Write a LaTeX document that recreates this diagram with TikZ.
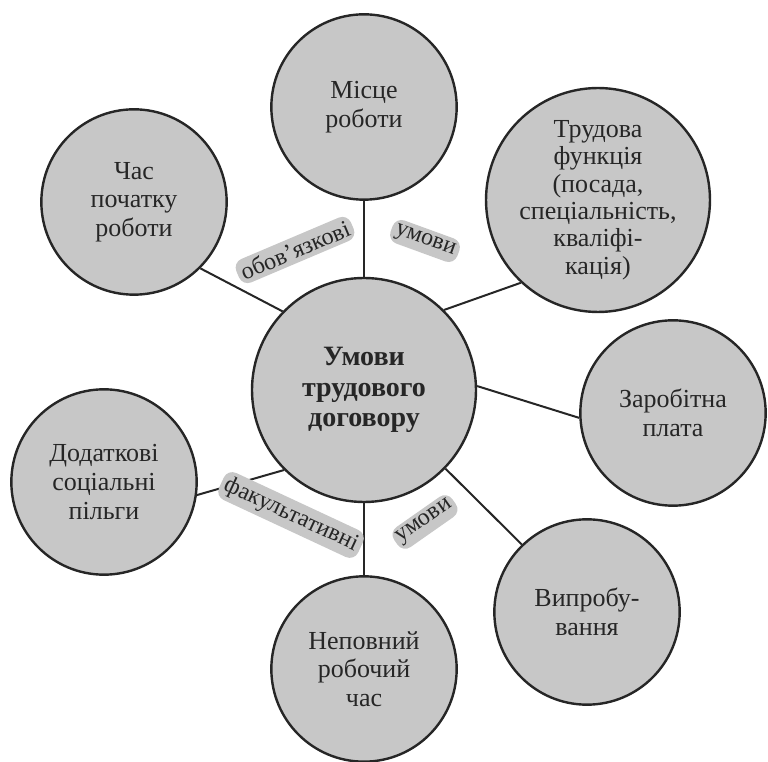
\documentclass[tikz,border=0pt]{standalone}
\usepackage{fontspec}
\setmainfont{Liberation Serif}
\tikzset{
  ring/.style={draw=black!85,circle,line width=1.8pt,fill=black!22,minimum size=139pt,inner sep=0pt,align=center,text=black!85,font=\fontsize{19.5}{21.5}\selectfont},
  hub/.style={ring,minimum size=168pt,font=\fontsize{21}{23}\selectfont\bfseries},
  link/.style={line width=1.5pt,draw=black!85},
  cond/.style={fill=black!22,rounded corners=7pt,inner sep=3pt,text=black!85,font=\fontsize{18}{20}\selectfont}
}

\begin{document}
\begin{tikzpicture}[x=0.75pt,y=-0.75pt]
\useasboundingbox (0,0) rectangle (768,762);
\node[hub] (main) at (364,390) {Умови\\трудового\\договору};
\node[ring] (misce) at (364,107) {Місце\\роботи};
\node[ring] (chas) at (134,202) {Час\\початку\\роботи};
\node[ring,font=\fontsize{19.5}{20.5}\selectfont] (trudova) at (598,200) {Трудова\\функція\\(посада,\\спеціальність,\\кваліфі-\\кація)};
\node[ring] (zarplata) at (673,413) {Заробітна\\плата};
\node[ring] (vyprob) at (587,612) {Випробу-\\вання};
\node[ring] (nepovnyi) at (364,669) {Неповний\\робочий\\час};
\node[ring] (pilhy) at (104,482) {Додаткові\\соціальні\\пільги};
% connectors
\draw[link] (misce.south) -- (main.north);
\draw[link] (chas.-45) -- (main.136);
\draw[link] (trudova.227) -- (main.45);
\draw[link] (zarplata.183) -- (main.2);
\draw[link] (vyprob.134) -- (main.-44);
\draw[link] (nepovnyi.north) -- (main.south);
\draw[link] (pilhy.-8) -- (main.225);
% labels
\node[cond,rotate=23] (obov) at (295,250) {обов’язкові};
\node[cond,rotate=-20] (umovy1) at (425,241) {умови};
\node[cond,rotate=-25] (fakult) at (291,515) {факультативні};
\node[cond,rotate=35] (umovy2) at (425,522) {умови};
\end{tikzpicture}
\end{document}
